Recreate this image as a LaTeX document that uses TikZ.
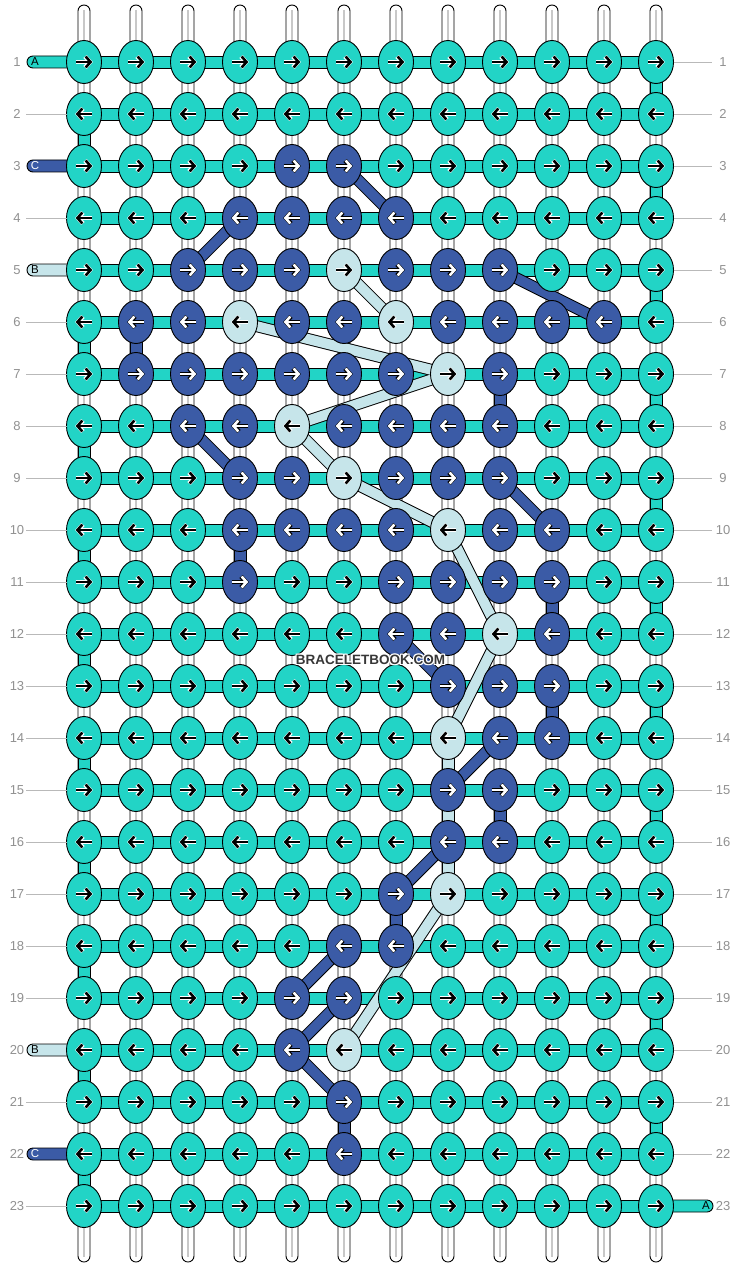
\documentclass[tikz,border=0pt]{standalone}
\usepackage{fontspec}
\setmainfont{Liberation Sans}
\usetikzlibrary{arrows.meta,shapes.geometric}
\definecolor{cA}{RGB}{34,212,198}
\definecolor{cB}{RGB}{198,229,234}
\definecolor{cC}{RGB}{59,91,166}
\colorlet{fgA}{black}\colorlet{fgB}{black}\colorlet{fgC}{white}
\colorlet{hlA}{white}\colorlet{hlB}{white}\colorlet{hlC}{black}
\colorlet{lbA}{black}\colorlet{lbB}{black}\colorlet{lbC}{white}
\definecolor{numgray}{RGB}{145,145,145}
\definecolor{guide}{RGB}{185,185,185}
\definecolor{railmid}{RGB}{200,200,200}
\definecolor{wmgray}{RGB}{55,55,55}
\tikzset{
 knot/.style={ellipse, draw=black, line width=0.9pt, minimum width=35pt, minimum height=43pt, inner sep=0pt, outer sep=0pt},
 railbody/.style={draw=black, fill=white, line width=0.9pt, rounded corners=6pt},
 railline/.style={draw=railmid, line width=1.4pt},
 hbar/.style={draw=black, fill=cA, line width=0.9pt},
 vsq/.style={draw=black, line width=0.9pt},
 diagout/.style={draw=black, line width=12pt},
 diagin/.style={line width=10pt},
 arrtip/.style={-{Straight Barb[length=4.8pt,width=11pt]}},
 stubbody/.style={draw=black, line width=0.9pt, rounded corners=6pt},
 stublab/.style={font=\fontsize{11.5}{11.5}\selectfont, inner sep=0pt},
 rownum/.style={font=\fontsize{13}{13}\selectfont, text=numgray, inner sep=0pt},
 guideline/.style={draw=guide, line width=0.9pt},
 wm/.style={font=\bfseries\fontsize{13.5}{13.5}\selectfont, inner sep=0pt},
}
\begin{document}
\begin{tikzpicture}[x=1pt,y=-1pt]
\fill[white] (0,0) rectangle (740,1268);
\useasboundingbox (0,0) rectangle (740,1268);
% coordinates
\foreach \r in {1,...,23}{
  \foreach \c in {1,...,12}{
    \coordinate (p-\r-\c) at ({32+52*\c},{10+52*\r});
  }
}
% rails
\foreach \c in {1,...,12}{
  \coordinate (rt-\c) at ({32+52*\c},5);
  \coordinate (rb-\c) at ({32+52*\c},1262);
  \draw[railbody] ([xshift=-6pt]rt-\c) rectangle ([xshift=6pt]rb-\c);
  \draw[railline] ([yshift=-5pt]rt-\c) -- ([yshift=5pt]rb-\c);
}
% horizontal bars
\foreach \r in {1,...,23}{
  \draw[hbar] ([yshift=6pt]p-\r-1) rectangle ([yshift=-6pt]p-\r-12);
}
% left stubs
\foreach \r/\k in {1/A,3/C,5/B,20/B,22/C}{
  \coordinate (se-\r) at (27,{10+52*\r});
  \draw[stubbody, fill=c\k] ([yshift=6pt]se-\r) rectangle ([yshift=-6pt]p-\r-1);
  \node[stublab, text=lb\k] (sl-\r) at ([xshift=8pt]se-\r) {\k};
}
% right stub
\coordinate (se-r23) at (713,1206);
\draw[stubbody, fill=cA] ([yshift=6pt]p-23-12) rectangle ([yshift=-6pt]se-r23);
\node[stublab, text=black] (sr-23) at (706,1206) {A};
% vertical squares
\foreach \r/\c/\k in {6/2/C,7/9/C,10/4/C,11/10/C,13/10/C,15/9/C,17/7/C,21/6/C,
  14/8/B,15/8/B,16/8/B,
  2/1/A,6/1/A,8/1/A,10/1/A,12/1/A,14/1/A,16/1/A,18/1/A,20/1/A,22/1/A,
  1/12/A,3/12/A,5/12/A,7/12/A,9/12/A,11/12/A,13/12/A,15/12/A,17/12/A,19/12/A,21/12/A}{
  \pgfmathtruncatemacro\rn{\r+1}
  \draw[vsq, fill=c\k] ([xshift=-6pt]p-\r-\c) rectangle ([xshift=6pt]p-\rn-\c);
}
% diagonals
\def\diaglist{3/6/4/7/C,5/3/4/4/C,5/9/6/11/C,8/3/9/4/C,9/9/10/10/C,12/7/13/8/C,14/9/15/8/C,16/8/17/7/C,18/6/19/5/C,19/6/20/5/C,20/5/21/6/C,
  5/6/6/7/B,6/4/7/8/B,7/8/8/5/B,8/5/9/6/B,9/6/10/8/B,10/8/12/9/B,12/9/14/8/B,17/8/20/6/B}
\foreach \ra/\ca/\rb/\cb/\k in \diaglist{
  \draw[diagout] (p-\ra-\ca) -- (p-\rb-\cb);
}
\foreach \ra/\ca/\rb/\cb/\k in \diaglist{
  \draw[diagin, draw=c\k] (p-\ra-\ca) -- (p-\rb-\cb);
}
% nodes
\foreach \r/\cols in {
 1/{A,A,A,A,A,A,A,A,A,A,A,A},
 2/{A,A,A,A,A,A,A,A,A,A,A,A},
 3/{A,A,A,A,C,C,A,A,A,A,A,A},
 4/{A,A,A,C,C,C,C,A,A,A,A,A},
 5/{A,A,C,C,C,B,C,C,C,A,A,A},
 6/{A,C,C,B,C,C,B,C,C,C,C,A},
 7/{A,C,C,C,C,C,C,B,C,A,A,A},
 8/{A,A,C,C,B,C,C,C,C,A,A,A},
 9/{A,A,A,C,C,B,C,C,C,A,A,A},
 10/{A,A,A,C,C,C,C,B,C,C,A,A},
 11/{A,A,A,C,A,A,C,C,C,C,A,A},
 12/{A,A,A,A,A,A,C,C,B,C,A,A},
 13/{A,A,A,A,A,A,A,C,C,C,A,A},
 14/{A,A,A,A,A,A,A,B,C,C,A,A},
 15/{A,A,A,A,A,A,A,C,C,A,A,A},
 16/{A,A,A,A,A,A,A,C,C,A,A,A},
 17/{A,A,A,A,A,A,C,B,A,A,A,A},
 18/{A,A,A,A,A,C,C,A,A,A,A,A},
 19/{A,A,A,A,C,C,A,A,A,A,A,A},
 20/{A,A,A,A,C,B,A,A,A,A,A,A},
 21/{A,A,A,A,A,C,A,A,A,A,A,A},
 22/{A,A,A,A,A,C,A,A,A,A,A,A},
 23/{A,A,A,A,A,A,A,A,A,A,A,A}}{
  \pgfmathsetmacro\d{ifthenelse(mod(\r,2)==1,1,-1)}
  \foreach \k [count=\c] in \cols{
    \node[knot, fill=c\k] (n-\r-\c) at (p-\r-\c) {};
    \draw[arrtip, draw=hl\k, line width=4.4pt] ([xshift={-8.3*\d}]n-\r-\c.center) -- ([xshift={8.8*\d}]n-\r-\c.center);
    \draw[arrtip, draw=fg\k, line width=2.6pt] ([xshift={-7.6*\d}]n-\r-\c.center) -- ([xshift={8.2*\d}]n-\r-\c.center);
  }
}
% guide lines and row numbers
\foreach \r in {2,4,6,7,8,9,10,11,12,13,14,15,16,17,18,19,21,23}{
  \coordinate (gl-\r) at (26,{10+52*\r});
  \draw[guideline] (gl-\r) -- (n-\r-1.west);
}
\foreach \r in {1,...,22}{
  \coordinate (gr-\r) at (712,{10+52*\r});
  \draw[guideline] (n-\r-12.east) -- (gr-\r);
}
\foreach \r in {1,...,23}{
  \node[rownum] (ln-\r) at (17,{10+52*\r}) {\r};
  \node[rownum] (rn-\r) at (723,{10+52*\r}) {\r};
}
% watermark
\foreach \dx/\dy [count=\i] in {-1/0,1/0,0/-1,0/1,-1/-1,1/1,-1/1,1/-1}{
  \node[wm, text=white] (wmh-\i) at ({370.5+\dx},{660+\dy}) {BRACELETBOOK.COM};
}
\node[wm, text=wmgray] (wm) at (370.5,660) {BRACELETBOOK.COM};
\end{tikzpicture}
\end{document}
